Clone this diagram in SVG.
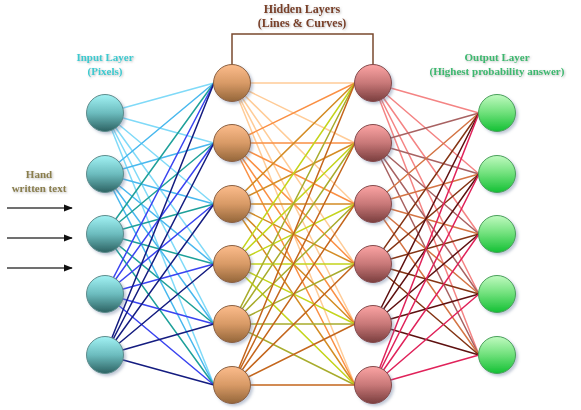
<svg xmlns="http://www.w3.org/2000/svg" width="581" height="410" viewBox="0 0 581 410">
<style>
.t{font-family:"Liberation Serif","Times New Roman",serif;font-weight:bold;text-anchor:middle;filter:url(#ts)}
.e{fill:none;stroke-width:1.5}
.n{stroke-width:1;filter:url(#ns)}
</style>
<defs>
<filter id="ns" x="-30%" y="-30%" width="170%" height="170%"><feDropShadow dx="2" dy="2" stdDeviation="1.5" flood-color="#7080a0" flood-opacity="0.45"/></filter>
<filter id="ts" x="-10%" y="-30%" width="120%" height="170%"><feDropShadow dx="1" dy="1" stdDeviation="1" flood-color="#808080" flood-opacity="0.5"/></filter>
<linearGradient id="gi" x1="0" y1="0" x2="0" y2="1"><stop offset="0" stop-color="#a2f2f4"/><stop offset="0.5" stop-color="#6cbcbe"/><stop offset="1" stop-color="#2c6262"/></linearGradient>
<linearGradient id="gh1" x1="0" y1="0" x2="0" y2="1"><stop offset="0" stop-color="#fcbc8c"/><stop offset="0.5" stop-color="#d89a66"/><stop offset="1" stop-color="#94663a"/></linearGradient>
<linearGradient id="gh2" x1="0" y1="0" x2="0" y2="1"><stop offset="0" stop-color="#fca4a4"/><stop offset="0.5" stop-color="#c87878"/><stop offset="1" stop-color="#7a3e3e"/></linearGradient>
<linearGradient id="go" x1="0" y1="0" x2="0" y2="1"><stop offset="0" stop-color="#c0fac0"/><stop offset="0.5" stop-color="#6ee07a"/><stop offset="1" stop-color="#12c034"/></linearGradient>
<marker id="ah" viewBox="0 0 10 10" refX="9" refY="5" markerWidth="6" markerHeight="6" orient="auto"><path d="M0,1 L10,5 L0,9 z" fill="#111"/></marker>
</defs>
<rect width="581" height="410" fill="#fff"/>

<g id="labels">
<text class="t" x="302" y="13" font-size="12" fill="#7a4028">Hidden Layers</text>
<text class="t" x="302" y="27" font-size="12" fill="#7a4028">(Lines &amp; Curves)</text>
<text class="t" x="105" y="61" font-size="11" fill="#3ccad0">Input Layer</text>
<text class="t" x="105" y="75" font-size="11" fill="#3ccad0">(Pixels)</text>
<text class="t" x="497" y="61" font-size="11" fill="#3cb870">Output Layer</text>
<text class="t" x="497" y="75" font-size="11" fill="#3cb870">(Highest probability answer)</text>
<text class="t" x="39" y="178" font-size="11" fill="#8a7e4c">Hand</text>
<text class="t" x="39" y="192" font-size="11" fill="#8a7e4c">written text</text>
</g>

<g id="connectors">
<path d="M232 65V34H373V65" fill="none" stroke="#7a4a2e" stroke-width="1.5"/>
<g id="input-arrows" stroke="#404040" stroke-width="1.5" marker-end="url(#ah)">
<line x1="7" y1="208" x2="72" y2="208"/>
<line x1="7" y1="238" x2="72" y2="238"/>
<line x1="7" y1="268" x2="72" y2="268"/>
</g>
<path class="e" stroke="#80daf8" d="M105 113L214 83M105 113L214 143M105 113L214 204M105 113L214 264M105 113L214 324M105 113L214 385"/>
<path class="e" stroke="#48b8ee" d="M105 174L214 83M105 174L214 143M105 174L214 204M105 174L214 264M105 174L214 324M105 174L214 385"/>
<path class="e" stroke="#1ea09a" d="M105 234L214 83M105 234L214 143M105 234L214 204M105 234L214 264M105 234L214 324M105 234L214 385"/>
<path class="e" stroke="#3a44f0" d="M105 294L214 83M105 294L214 143M105 294L214 204M105 294L214 264M105 294L214 324M105 294L214 385"/>
<path class="e" stroke="#141c80" d="M105 355L214 83M105 355L214 143M105 355L214 204M105 355L214 264M105 355L214 324M105 355L214 385"/>

<path class="e" stroke="#ffcc98" d="M232 83L355 83M232 83L355 143M232 83L355 204M232 83L355 264M232 83L355 324M232 83L355 385"/>
<path class="e" stroke="#fa9044" d="M232 143L355 83M232 143L355 143M232 143L355 204M232 143L355 264M232 143L355 324M232 143L355 385"/>
<path class="e" stroke="#d48c24" d="M232 204L355 83M232 204L355 143M232 204L355 204M232 204L355 264M232 204L355 324M232 204L355 385"/>
<path class="e" stroke="#c4d41c" d="M232 264L355 83M232 264L355 143M232 264L355 204M232 264L355 264M232 264L355 324M232 264L355 385"/>
<path class="e" stroke="#a8ac2c" d="M232 324L355 83M232 324L355 143M232 324L355 204M232 324L355 264M232 324L355 324M232 324L355 385"/>
<path class="e" stroke="#c4661c" d="M232 385L355 83M232 385L355 143M232 385L355 204M232 385L355 264M232 385L355 324M232 385L355 385"/>

<path class="e" stroke="#f48484" d="M373 83L479 113M373 83L479 174M373 83L479 234M373 83L479 294M373 83L479 355"/>
<path class="e" stroke="#a86262" d="M373 143L479 113M373 143L479 174M373 143L479 234M373 143L479 294M373 143L479 355"/>
<path class="e" stroke="#d47444" d="M373 204L479 113M373 204L479 174M373 204L479 234M373 204L479 294M373 204L479 355"/>
<path class="e" stroke="#843414" d="M373 264L479 113M373 264L479 174M373 264L479 234M373 264L479 294M373 264L479 355"/>
<path class="e" stroke="#5e1010" d="M373 324L479 113M373 324L479 174M373 324L479 234M373 324L479 294M373 324L479 355"/>
<path class="e" stroke="#e0225a" d="M373 385L479 113M373 385L479 174M373 385L479 234M373 385L479 294M373 385L479 355"/>
</g>

<g id="input-layer" fill="url(#gi)" stroke="#5e8c8c">
<g id="in1"><circle class="n" cx="105" cy="113" r="18.5"/></g>
<g id="in2"><circle class="n" cx="105" cy="174" r="18.5"/></g>
<g id="in3"><circle class="n" cx="105" cy="234" r="18.5"/></g>
<g id="in4"><circle class="n" cx="105" cy="294" r="18.5"/></g>
<g id="in5"><circle class="n" cx="105" cy="355" r="18.5"/></g>
</g>
<g id="hidden-layer-1" fill="url(#gh1)" stroke="#8a6040">
<g id="h1-1"><circle class="n" cx="232" cy="83" r="18.5"/></g>
<g id="h1-2"><circle class="n" cx="232" cy="143" r="18.5"/></g>
<g id="h1-3"><circle class="n" cx="232" cy="204" r="18.5"/></g>
<g id="h1-4"><circle class="n" cx="232" cy="264" r="18.5"/></g>
<g id="h1-5"><circle class="n" cx="232" cy="324" r="18.5"/></g>
<g id="h1-6"><circle class="n" cx="232" cy="385" r="18.5"/></g>
</g>
<g id="hidden-layer-2" fill="url(#gh2)" stroke="#844a4a">
<g id="h2-1"><circle class="n" cx="373" cy="83" r="18.5"/></g>
<g id="h2-2"><circle class="n" cx="373" cy="143" r="18.5"/></g>
<g id="h2-3"><circle class="n" cx="373" cy="204" r="18.5"/></g>
<g id="h2-4"><circle class="n" cx="373" cy="264" r="18.5"/></g>
<g id="h2-5"><circle class="n" cx="373" cy="324" r="18.5"/></g>
<g id="h2-6"><circle class="n" cx="373" cy="385" r="18.5"/></g>
</g>
<g id="output-layer" fill="url(#go)" stroke="#4aa05a">
<g id="out1"><circle class="n" cx="497" cy="113" r="18.5"/></g>
<g id="out2"><circle class="n" cx="497" cy="174" r="18.5"/></g>
<g id="out3"><circle class="n" cx="497" cy="234" r="18.5"/></g>
<g id="out4"><circle class="n" cx="497" cy="294" r="18.5"/></g>
<g id="out5"><circle class="n" cx="497" cy="355" r="18.5"/></g>
</g>
</svg>
